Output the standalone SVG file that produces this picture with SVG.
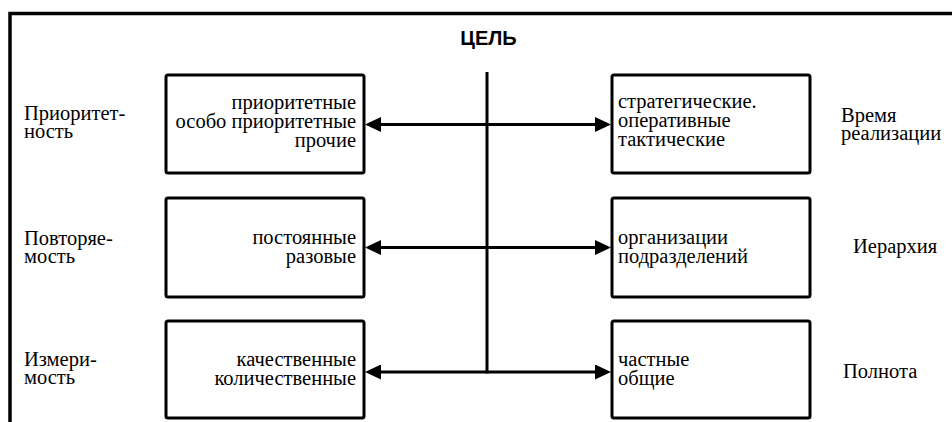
<svg xmlns="http://www.w3.org/2000/svg" width="952" height="422" viewBox="0 0 952 422">
  <style>
    .frame { fill: none; stroke: #000; stroke-width: 3.5; }
    .box { fill: #fff; stroke: #000; stroke-width: 3; }
    .conn { fill: none; stroke: #000; stroke-width: 3; }
    .r { text-anchor: end; }
  </style>
  <defs>
    <marker id="arrow" viewBox="0 0 16 15" refX="8" refY="7.5" markerWidth="16" markerHeight="15" markerUnits="userSpaceOnUse" orient="auto-start-reverse">
      <path d="M0,0 L16,7.5 L0,15 z" fill="#000"/>
    </marker>
  </defs>
  <rect width="952" height="422" fill="#fff"/>
  <path class="frame" d="M10,422 L10,13.5 L952,13.5"/>

  <text id="goal" x="488.5" y="45" font-family="Liberation Sans, Arial, sans-serif" font-weight="bold" font-size="20" text-anchor="middle" fill="#000">ЦЕЛЬ</text>

  <g font-family="Liberation Serif, Times New Roman, serif" font-size="20.5" fill="#000">
    <g id="labels-left">
      <text x="24" y="120">Приоритет-</text>
      <text x="24" y="138">ность</text>
      <text x="24" y="245">Повторяе-</text>
      <text x="24" y="263">мость</text>
      <text x="24" y="366">Измери-</text>
      <text x="24" y="384">мость</text>
    </g>
    <g id="labels-right">
      <text x="841" y="122">Время</text>
      <text x="841" y="140">реализации</text>
      <text x="853" y="253">Иерархия</text>
      <text x="843" y="378">Полнота</text>
    </g>

    <g id="box-priority">
      <rect class="box" x="166" y="75" width="198" height="98" rx="2"/>
      <text class="r" x="356" y="109">приоритетные</text>
      <text class="r" x="356" y="128">особо приоритетные</text>
      <text class="r" x="356" y="147">прочие</text>
    </g>
    <g id="box-repeat">
      <rect class="box" x="166" y="198" width="198" height="99" rx="2"/>
      <text class="r" x="356" y="244">постоянные</text>
      <text class="r" x="356" y="263">разовые</text>
    </g>
    <g id="box-measure">
      <rect class="box" x="166" y="321" width="198" height="97" rx="2"/>
      <text class="r" x="356" y="366">качественные</text>
      <text class="r" x="356" y="385">количественные</text>
    </g>
    <g id="box-time">
      <rect class="box" x="612" y="75" width="198" height="98" rx="2"/>
      <text x="618" y="108">стратегические.</text>
      <text x="618" y="127">оперативные</text>
      <text x="618" y="146">тактические</text>
    </g>
    <g id="box-hierarchy">
      <rect class="box" x="612" y="198" width="198" height="99" rx="2"/>
      <text x="618" y="244">организации</text>
      <text x="618" y="263">подразделений</text>
    </g>
    <g id="box-completeness">
      <rect class="box" x="612" y="321" width="198" height="97" rx="2"/>
      <text x="618" y="366">частные</text>
      <text x="618" y="385">общие</text>
    </g>
  </g>

  <g id="connectors">
    <line class="conn" x1="487" y1="72" x2="487" y2="373.5"/>
    <line class="conn" x1="373" y1="124.5" x2="603" y2="124.5" marker-start="url(#arrow)" marker-end="url(#arrow)"/>
    <line class="conn" x1="373" y1="247.5" x2="603" y2="247.5" marker-start="url(#arrow)" marker-end="url(#arrow)"/>
    <line class="conn" x1="373" y1="372" x2="603" y2="372" marker-start="url(#arrow)" marker-end="url(#arrow)"/>
  </g>
</svg>
